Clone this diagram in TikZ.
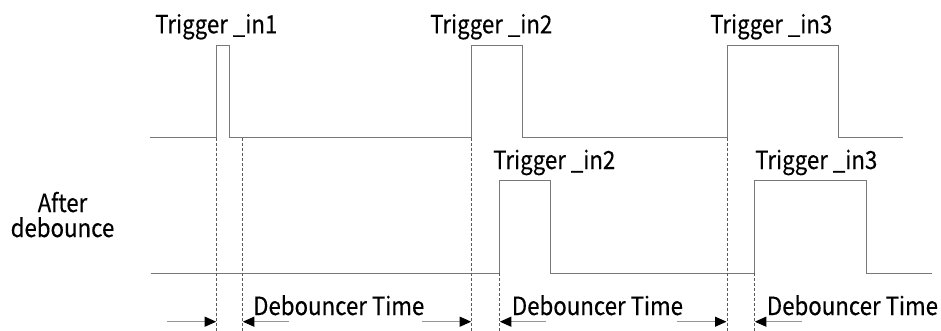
\documentclass[tikz,border=0pt]{standalone}
\usepackage{fontspec}
\setmainfont[FakeStretch=0.89,FakeBold=0.3]{Noto Sans CJK SC}
\usetikzlibrary{arrows.meta}
\definecolor{wave}{RGB}{120,120,120}
\definecolor{dash}{RGB}{90,90,90}
\definecolor{shaft}{RGB}{150,150,150}
\begin{document}
\begin{tikzpicture}[x=1pt,y=-1pt,
  wavestyle/.style={draw=wave,line width=1pt},
  guide/.style={draw=dash,line width=0.7pt,dash pattern=on 3pt off 2pt},
  dimarrow/.style={draw=shaft,line width=1pt,-{Triangle[length=11.5pt,width=10pt,color=black]}},
  lbl/.style={font=\fontsize{25}{28}\selectfont,inner sep=0pt,anchor=base west}]
\useasboundingbox (0,0) rectangle (941,331);
% top waveform
\draw[wavestyle] (150,138) -- (216.7,138) -- (216.7,46) -- (229,46) -- (229,138)
  -- (471.7,138) -- (471.7,46) -- (522,46) -- (522,138)
  -- (727,138) -- (727,46) -- (838,46) -- (838,138) -- (903,138);
% bottom waveform
\draw[wavestyle] (150.7,273.3) -- (499.3,273.3) -- (499.3,180.7) -- (550,180.7) -- (550,273.3)
  -- (754.3,273.3) -- (754.3,180.7) -- (866.7,180.7) -- (866.7,273.3) -- (931.7,273.3);
% guides
\draw[guide] (216.7,138) -- (216.7,331);
\draw[guide] (242.3,138) -- (242.3,331);
\draw[guide] (471.7,138) -- (471.7,331);
\draw[guide] (499.3,273.3) -- (499.3,331);
\draw[guide] (727,138) -- (727,331);
\draw[guide] (754.3,273.3) -- (754.3,331);
% arrows
\coordinate (a1s) at (167,321.7); \coordinate (a1e) at (216.2,321.7);
\coordinate (a2s) at (289,321.7); \coordinate (a2e) at (242.8,321.7);
\coordinate (a3s) at (421.7,321.7); \coordinate (a3e) at (471.2,321.7);
\coordinate (a4s) at (546,321.7); \coordinate (a4e) at (499.8,321.7);
\coordinate (a5s) at (676.7,321.7); \coordinate (a5e) at (726.5,321.7);
\coordinate (a6s) at (801.7,321.7); \coordinate (a6e) at (754.8,321.7);
\draw[dimarrow] (a1s) -- (a1e);
\draw[dimarrow] (a2s) -- (a2e);
\draw[dimarrow] (a3s) -- (a3e);
\draw[dimarrow] (a4s) -- (a4e);
\draw[dimarrow] (a5s) -- (a5e);
\draw[dimarrow] (a6s) -- (a6e);
% labels
\node[lbl] (t1) at (155,33.3) {Trigger \_in1};
\node[lbl] (t2) at (430,33.3) {Trigger \_in2};
\node[lbl] (t3) at (710,33.3) {Trigger \_in3};
\node[lbl] (b2) at (493,169) {Trigger \_in2};
\node[lbl] (b3) at (755,169) {Trigger \_in3};
\node[lbl] (d1) at (253,315) {Debouncer Time};
\node[lbl] (d2) at (511.7,315) {Debouncer Time};
\node[lbl] (d3) at (766.7,315) {Debouncer Time};
\node[font=\fontsize{25}{25}\selectfont,inner sep=0pt,align=center,anchor=base] (ad) at (62.5,237) {After\\debounce};
\end{tikzpicture}
\end{document}
